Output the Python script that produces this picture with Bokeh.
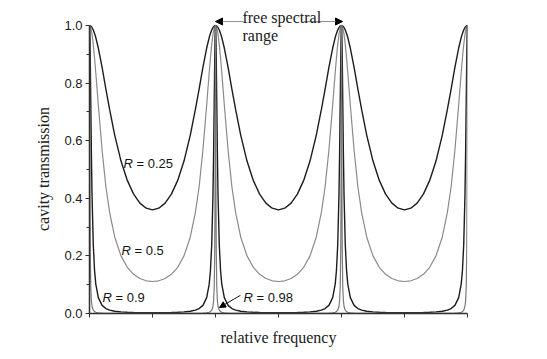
from bokeh.plotting import figure
from bokeh.models import (Range1d, FixedTicker, PrintfTickFormatter, CustomJSTickFormatter,
                          Label, Arrow, NormalHead)
from bokeh.embed import file_html
from bokeh.resources import INLINE

offsets = [0, 0.002, 0.004, 0.006, 0.01, 0.015, 0.02, 0.03, 0.04, 0.05, 0.07,
           0.1, 0.13, 0.16, 0.2, 0.25, 0.3, 0.35, 0.4, 0.45, 0.5]
t_r025 = [1.0, 0.9999, 0.9997, 0.9994, 0.9982, 0.9961, 0.9930, 0.9845, 0.9728, 0.9583, 0.9220,
          0.8549, 0.7796, 0.7079, 0.6195, 0.5294, 0.4622, 0.4147, 0.3834, 0.3657, 0.3600]
t_r050 = [1.0, 0.9997, 0.9987, 0.9972, 0.9922, 0.9826, 0.9694, 0.9338, 0.8884, 0.8363, 0.7243,
          0.5669, 0.4401, 0.3501, 0.2657, 0.2000, 0.1604, 0.1360, 0.1214, 0.1136, 0.1111]
t_r090 = [1.0, 0.9860, 0.9462, 0.8866, 0.7379, 0.5559, 0.4133, 0.2388, 0.1503, 0.1019, 0.0552,
          0.0283, 0.0172, 0.0118, 0.0080, 0.0055, 0.0042, 0.0035, 0.0031, 0.0028, 0.0028]
t_r098 = [1.0, 0.7210, 0.3926, 0.2231, 0.0937, 0.0440, 0.0252, 0.0114, 0.0065, 0.0042, 0.0021,
          0.0011, 0.0006, 0.0004, 0.0003, 0.0002, 0.0002, 0.0001, 0.0001, 0.0001, 0.0001]
peaks = [0, 1, 2, 3]
reflectivities = ["0.25", "0.5", "0.9", "0.98"]
y_ticks = [0.0, 0.2, 0.4, 0.6, 0.8, 1.0]
y_minor = [0.1, 0.3, 0.5, 0.7, 0.9]
x_ticks = [0, 0.5, 1.0, 1.5, 2.0, 2.5, 3.0]


def full_curve(profile):
    xs, ys = [], []
    for k in peaks[:-1]:
        xs += [k + d for d in offsets] + [k + 1 - d for d in reversed(offsets)]
        ys += list(profile) + list(reversed(profile))
    return xs, ys


p = figure(width=547, height=359, output_backend="svg", toolbar_location=None,
           x_range=Range1d(0, 3), y_range=Range1d(0, 1.087),
           min_border_left=89, min_border_right=80, min_border_top=0, min_border_bottom=46)
p.outline_line_color = None
p.xgrid.grid_line_color = None
p.ygrid.grid_line_color = None
p.background_fill_color = "white"

styles = [(t_r025, "#1c1c1c", 1.4), (t_r050, "#8a8a8a", 1.2),
          (t_r090, "#1c1c1c", 1.4), (t_r098, "#7a7a7a", 1.2)]
for prof, col, w in styles:
    xs, ys = full_curve(prof)
    p.line(xs, ys, line_color=col, line_width=w)

serif = "Liberation Serif"
# axes
for ax in (p.xaxis[0], p.yaxis[0]):
    ax.axis_line_color = "#303030"
    ax.axis_line_width = 1.5
    ax.major_tick_line_color = "#303030"
    ax.minor_tick_line_color = "#303030"
    ax.major_tick_out = 4
    ax.major_tick_in = 0
    ax.axis_label_text_font = serif
    ax.axis_label_text_font_size = "16px"
    ax.axis_label_text_font_style = "normal"
    ax.axis_label_text_color = "#202020"

p.yaxis.ticker = FixedTicker(ticks=y_ticks, minor_ticks=y_minor)
p.yaxis.formatter = PrintfTickFormatter(format="%.1f")
p.yaxis.bounds = (0, 1.0)
p.yaxis.minor_tick_out = 3
p.yaxis.minor_tick_in = 0
p.yaxis.major_label_text_font = "Liberation Sans"
p.yaxis.major_label_text_font_size = "13px"
p.yaxis.major_label_text_color = "#202020"
p.yaxis.major_label_standoff = 3
# trailing no-break spaces centre the title on the 0..1 part of the axis
p.yaxis.axis_label = "cavity transmission" + "\u00a0" * 6
p.yaxis.axis_label_standoff = 9

p.xaxis.ticker = FixedTicker(ticks=x_ticks, minor_ticks=[])
p.xaxis.formatter = CustomJSTickFormatter(code="return ''")
p.xaxis.bounds = (0, 3)
p.xaxis.axis_label = "relative frequency"
p.xaxis.axis_label_standoff = 11

# free spectral range annotation
p.add_layout(Arrow(x_start=1.222, y_start=1.014, x_end=1.0, y_end=1.014,
                   line_color="#909090", line_width=1,
                   end=NormalHead(size=7, fill_color="black", line_color="black")))
p.add_layout(Arrow(x_start=1.698, y_start=1.014, x_end=2.008, y_end=1.014,
                   line_color="#909090", line_width=1,
                   end=NormalHead(size=7, fill_color="black", line_color="black")))
p.add_layout(Label(x=1.214, y=1.028, text="free spectral", text_font=serif,
                   text_font_size="16px", text_baseline="alphabetic", text_color="#202020"))
p.add_layout(Label(x=1.214, y=0.965, text="range", text_font=serif,
                   text_font_size="16px", text_baseline="alphabetic", text_color="#202020"))

# R labels
label_pos = [(0.270, 0.521), (0.254, 0.219), (0.103, 0.056), (1.222, 0.056)]
for (lx, ly), r in zip(label_pos, reflectivities):
    p.add_layout(Label(x=lx, y=ly, text="R", text_font="Liberation Sans",
                       text_font_style="italic", text_font_size="13px",
                       text_baseline="middle", text_color="#151515"))
    p.add_layout(Label(x=lx, y=ly, x_offset=13, text="= " + r, text_font="Liberation Sans",
                       text_font_size="13px", text_baseline="middle", text_color="#151515"))

p.add_layout(Arrow(x_start=1.198, y_start=0.063, x_end=1.032, y_end=0.021,
                   line_color="#151515", line_width=1,
                   end=NormalHead(size=6, fill_color="black", line_color="black")))

open("out.html", "w").write(file_html(p, INLINE))
